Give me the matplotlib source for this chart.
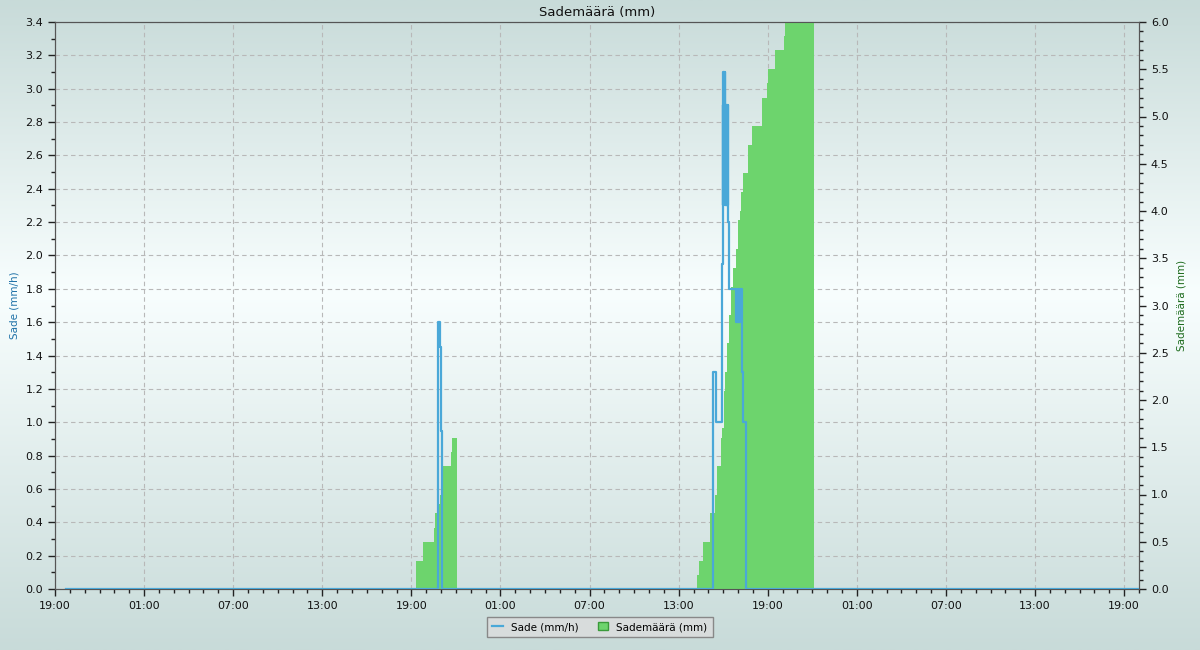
import matplotlib
matplotlib.use("Agg")
import matplotlib.pyplot as plt
import matplotlib.dates as mdates
from matplotlib.colors import LinearSegmentedColormap
from matplotlib.lines import Line2D
from matplotlib.patches import Patch
import numpy as np
import pandas as pd

t_start = "2024-06-10 19:00"
t_end = "2024-06-13 20:00"
rain_first = "2024-06-10 19:45"

ev1_base = "2024-06-11 19:00"
ev2_base = "2024-06-12 13:00"

# Sade (mm/h) - minutes after event base, step values
rain1_min = [106, 117, 120, 123]
rain1_val = [1.6, 1.45, 0.95, 0.0]
rain2_min = [140, 151, 175, 178, 179, 180, 181, 182, 183, 184, 185, 186, 187, 188,
             189, 190, 191, 192, 193, 194, 195, 196, 197, 198, 200, 204, 232, 234,
             236, 238, 240, 242, 244, 246, 248, 256, 261, 272]
rain2_val = [1.3, 1.0, 1.95, 2.9, 2.3, 2.9, 3.1, 2.9, 3.1, 2.3, 2.9, 3.1, 2.4, 2.9,
             2.3, 2.9, 2.3, 2.9, 2.3, 2.9, 2.3, 2.9, 2.3, 2.9, 2.2, 1.8, 1.6, 1.8,
             1.6, 1.8, 1.6, 1.8, 1.6, 1.8, 1.8, 1.3, 1.0, 0.0]

# Sademäärä (mm) - minutes after event base
amount1_min = [19, 47, 92, 97, 103, 115, 121, 128, 159, 164, 183]
amount1_val = [0.3, 0.5, 0.65, 0.8, 0.9, 1.0, 1.15, 1.3, 1.45, 1.6, 0.0]
amount2_min = [75, 81, 100, 127, 146, 155, 171, 177, 182, 188, 196, 205, 213, 221,
               230, 238, 246, 251, 258, 280, 297, 337, 357, 361, 390, 426, 430, 547]
amount2_val = [0.15, 0.3, 0.5, 0.8, 1.0, 1.3, 1.6, 1.7, 2.1, 2.3, 2.6, 2.9, 3.2, 3.4,
               3.6, 3.9, 4.0, 4.2, 4.4, 4.7, 4.9, 5.2, 5.35, 5.5, 5.7, 5.85, 6.1, 0.0]

title = "Sademäärä (mm)"
left_label = "Sade (mm/h)"
right_label = "Sademäärä (mm)"


def to_times(base, mins):
    return list(pd.Timestamp(base) + pd.to_timedelta(mins, unit="min"))


rain_t = [pd.Timestamp(rain_first)] + to_times(ev1_base, rain1_min) + to_times(ev2_base, rain2_min) + [pd.Timestamp(t_end)]
rain_v = [0.0] + rain1_val + rain2_val + [0.0]
amt_t = [pd.Timestamp(t_start)] + to_times(ev1_base, amount1_min) + to_times(ev2_base, amount2_min) + [pd.Timestamp(t_end)]
amt_v = [0.0] + amount1_val + amount2_val + [0.0]

blue = "#4aa8d8"
green = "#6dd46d"

fig = plt.figure(figsize=(12, 6.5), dpi=100)

# background gradient over whole figure
bg = fig.add_axes([0, 0, 1, 1], zorder=-10)
cmap = LinearSegmentedColormap.from_list(
    "bg", [(0.0, "#c8dbd9"), (0.45, "#f8fefe"), (1.0, "#c8dbd9")])
bg.imshow(np.linspace(0, 1, 256).reshape(-1, 1), aspect="auto", cmap=cmap,
          extent=[0, 1, 0, 1], origin="upper")
bg.axis("off")

ax = fig.add_axes([55 / 1200, 1 - 589 / 650, 1084 / 1200, 567 / 650])
ax.patch.set_visible(False)
ax2 = ax.twinx()
ax2.patch.set_visible(False)
ax3 = ax.twinx()
ax3.patch.set_visible(False)

ax2.fill_between(amt_t, amt_v, step="post", color=green, lw=0)
ax3.step(rain_t, rain_v, where="post", color=blue, lw=1.6)

ax.set_xlim(pd.Timestamp(t_start), pd.Timestamp(t_end))
ax.set_ylim(0, 3.4)
ax2.set_ylim(0, 6.0)
ax3.set_ylim(0, 3.4)
ax3.axis("off")

ax.xaxis.set_major_locator(mdates.HourLocator(byhour=[1, 7, 13, 19]))
ax.xaxis.set_minor_locator(mdates.HourLocator())
ax.xaxis.set_major_formatter(mdates.DateFormatter("%H:%M"))
ax.set_yticks(np.arange(0, 3.41, 0.2))
ax.set_yticks(np.arange(0, 3.41, 0.1), minor=True)
ax.yaxis.set_major_formatter(matplotlib.ticker.FormatStrFormatter("%.1f"))
ax2.set_yticks(np.arange(0, 6.01, 0.5))
ax2.set_yticks(np.arange(0, 6.01, 0.1), minor=True)
ax2.yaxis.set_major_formatter(matplotlib.ticker.FormatStrFormatter("%.1f"))

for a in (ax, ax2):
    a.tick_params(which="major", length=5, width=1, labelsize=8, color="#222222", labelcolor="#111111")
    a.tick_params(which="minor", length=3, width=1, color="#222222")
    for s in a.spines.values():
        s.set_color("#555555")

ax.grid(which="major", ls=(0, (4, 3)), color="#b8b8b8", lw=0.8)

ax.set_ylabel(left_label, color="#1f72a8", fontsize=7.5, labelpad=4)
ax2.set_ylabel(right_label, color="#1d6b1d", fontsize=7.5, labelpad=6)
ax.set_title(title, fontsize=9.5, pad=4, color="#111111")

handles = [Line2D([0], [0], color=blue, lw=1.6),
           Patch(facecolor=green, edgecolor="#3a9a3a")]
leg = fig.legend(handles, [left_label, right_label], loc="center", ncol=2,
                 bbox_to_anchor=(0.5, 1 - 627 / 650), fontsize=7.5, frameon=True,
                 fancybox=False, handlelength=1.0, handleheight=0.8, columnspacing=1.8,
                 borderpad=0.5)
leg.get_frame().set_facecolor("#d8dcdc")
leg.get_frame().set_edgecolor("#888888")
leg.get_frame().set_alpha(1)

fig.savefig("out.png", dpi=100)
